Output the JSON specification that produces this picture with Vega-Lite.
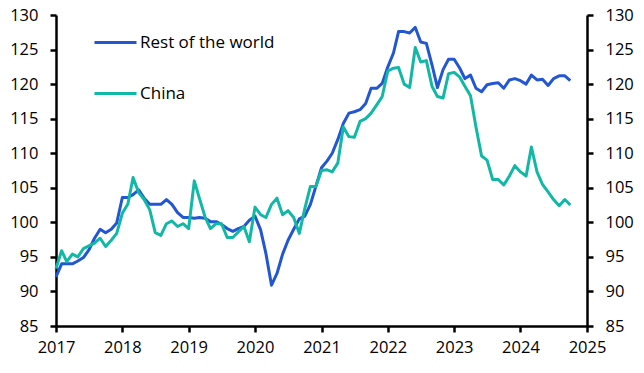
{
  "$schema": "https://vega.github.io/schema/vega-lite/v6.json",
  "autosize": "none",
  "width": 531,
  "height": 311,
  "padding": {"left": 56, "top": 15, "right": 57, "bottom": 47},
  "background": "white",
  "config": {
    "view": {"stroke": null},
    "font": "Open Sans",
    "axis": {
      "domainColor": "black", "domainWidth": 2.5,
      "tickColor": "black", "tickWidth": 2.5, "tickSize": 6,
      "labelColor": "black", "labelFontSize": 16.5, "labelFont": "Open Sans",
      "grid": false, "title": null
    }
  },
  "data": {"values": [
    {"date":"2017-01-01","Rest of the world":92.1,"China":93.3},
    {"date":"2017-02-01","Rest of the world":94.0,"China":95.9},
    {"date":"2017-03-01","Rest of the world":94.0,"China":94.3},
    {"date":"2017-04-01","Rest of the world":94.0,"China":95.4},
    {"date":"2017-05-01","Rest of the world":94.4,"China":95.0},
    {"date":"2017-06-01","Rest of the world":94.9,"China":96.2},
    {"date":"2017-07-01","Rest of the world":96.0,"China":96.6},
    {"date":"2017-08-01","Rest of the world":97.7,"China":97.0},
    {"date":"2017-09-01","Rest of the world":99.0,"China":97.7},
    {"date":"2017-10-01","Rest of the world":98.5,"China":96.5},
    {"date":"2017-11-01","Rest of the world":99.0,"China":97.4},
    {"date":"2017-12-01","Rest of the world":99.9,"China":98.4},
    {"date":"2018-01-01","Rest of the world":103.6,"China":101.3},
    {"date":"2018-02-01","Rest of the world":103.6,"China":102.7},
    {"date":"2018-03-01","Rest of the world":104.0,"China":106.5},
    {"date":"2018-04-01","Rest of the world":104.7,"China":104.3},
    {"date":"2018-05-01","Rest of the world":103.5,"China":103.3},
    {"date":"2018-06-01","Rest of the world":102.6,"China":101.8},
    {"date":"2018-07-01","Rest of the world":102.6,"China":98.5},
    {"date":"2018-08-01","Rest of the world":102.6,"China":98.1},
    {"date":"2018-09-01","Rest of the world":103.3,"China":99.8},
    {"date":"2018-10-01","Rest of the world":102.6,"China":100.2},
    {"date":"2018-11-01","Rest of the world":101.4,"China":99.4},
    {"date":"2018-12-01","Rest of the world":100.7,"China":99.8},
    {"date":"2019-01-01","Rest of the world":100.7,"China":99.1},
    {"date":"2019-02-01","Rest of the world":100.6,"China":106.0},
    {"date":"2019-03-01","Rest of the world":100.7,"China":103.5},
    {"date":"2019-04-01","Rest of the world":100.6,"China":100.8},
    {"date":"2019-05-01","Rest of the world":100.1,"China":99.1},
    {"date":"2019-06-01","Rest of the world":100.1,"China":99.8},
    {"date":"2019-07-01","Rest of the world":99.7,"China":99.8},
    {"date":"2019-08-01","Rest of the world":99.1,"China":97.8},
    {"date":"2019-09-01","Rest of the world":98.7,"China":97.8},
    {"date":"2019-10-01","Rest of the world":99.1,"China":98.6},
    {"date":"2019-11-01","Rest of the world":99.4,"China":99.4},
    {"date":"2019-12-01","Rest of the world":100.3,"China":97.2},
    {"date":"2020-01-01","Rest of the world":100.9,"China":102.2},
    {"date":"2020-02-01","Rest of the world":98.9,"China":101.1},
    {"date":"2020-03-01","Rest of the world":95.5,"China":100.7},
    {"date":"2020-04-01","Rest of the world":90.9,"China":102.6},
    {"date":"2020-05-01","Rest of the world":92.6,"China":103.5},
    {"date":"2020-06-01","Rest of the world":95.4,"China":101.1},
    {"date":"2020-07-01","Rest of the world":97.4,"China":101.7},
    {"date":"2020-08-01","Rest of the world":99.0,"China":100.7},
    {"date":"2020-09-01","Rest of the world":100.5,"China":98.4},
    {"date":"2020-10-01","Rest of the world":100.9,"China":102.0},
    {"date":"2020-11-01","Rest of the world":102.6,"China":105.2},
    {"date":"2020-12-01","Rest of the world":105.2,"China":105.2},
    {"date":"2021-01-01","Rest of the world":107.9,"China":107.5},
    {"date":"2021-02-01","Rest of the world":108.9,"China":107.6},
    {"date":"2021-03-01","Rest of the world":110.0,"China":107.3},
    {"date":"2021-04-01","Rest of the world":112.0,"China":108.6},
    {"date":"2021-05-01","Rest of the world":114.3,"China":113.8},
    {"date":"2021-06-01","Rest of the world":115.8,"China":112.4},
    {"date":"2021-07-01","Rest of the world":116.0,"China":112.3},
    {"date":"2021-08-01","Rest of the world":116.3,"China":114.6},
    {"date":"2021-09-01","Rest of the world":117.2,"China":115.0},
    {"date":"2021-10-01","Rest of the world":119.4,"China":115.8},
    {"date":"2021-11-01","Rest of the world":119.4,"China":117.0},
    {"date":"2021-12-01","Rest of the world":120.1,"China":118.2},
    {"date":"2022-01-01","Rest of the world":122.5,"China":121.9},
    {"date":"2022-02-01","Rest of the world":124.5,"China":122.3},
    {"date":"2022-03-01","Rest of the world":127.6,"China":122.4},
    {"date":"2022-04-01","Rest of the world":127.6,"China":120.0},
    {"date":"2022-05-01","Rest of the world":127.4,"China":119.5},
    {"date":"2022-06-01","Rest of the world":128.2,"China":125.3},
    {"date":"2022-07-01","Rest of the world":126.1,"China":123.2},
    {"date":"2022-08-01","Rest of the world":125.9,"China":123.4},
    {"date":"2022-09-01","Rest of the world":122.8,"China":119.7},
    {"date":"2022-10-01","Rest of the world":119.5,"China":118.2},
    {"date":"2022-11-01","Rest of the world":122.1,"China":118.0},
    {"date":"2022-12-01","Rest of the world":123.6,"China":121.5},
    {"date":"2023-01-01","Rest of the world":123.6,"China":121.7},
    {"date":"2023-02-01","Rest of the world":122.3,"China":121.0},
    {"date":"2023-03-01","Rest of the world":120.8,"China":119.7},
    {"date":"2023-04-01","Rest of the world":121.3,"China":118.3},
    {"date":"2023-05-01","Rest of the world":119.4,"China":113.8},
    {"date":"2023-06-01","Rest of the world":118.9,"China":109.6},
    {"date":"2023-07-01","Rest of the world":119.9,"China":109.0},
    {"date":"2023-08-01","Rest of the world":120.1,"China":106.2},
    {"date":"2023-09-01","Rest of the world":120.2,"China":106.2},
    {"date":"2023-10-01","Rest of the world":119.4,"China":105.4},
    {"date":"2023-11-01","Rest of the world":120.6,"China":106.7},
    {"date":"2023-12-01","Rest of the world":120.8,"China":108.2},
    {"date":"2024-01-01","Rest of the world":120.5,"China":107.3},
    {"date":"2024-02-01","Rest of the world":120.0,"China":106.7},
    {"date":"2024-03-01","Rest of the world":121.3,"China":110.9},
    {"date":"2024-04-01","Rest of the world":120.6,"China":107.3},
    {"date":"2024-05-01","Rest of the world":120.7,"China":105.5},
    {"date":"2024-06-01","Rest of the world":119.8,"China":104.4},
    {"date":"2024-07-01","Rest of the world":120.8,"China":103.3},
    {"date":"2024-08-01","Rest of the world":121.2,"China":102.4},
    {"date":"2024-09-01","Rest of the world":121.2,"China":103.3},
    {"date":"2024-10-01","Rest of the world":120.5,"China":102.5}
  ]},
  "transform": [{"fold": ["Rest of the world", "China"], "as": ["series", "value"]}],
  "layer": [
    {
      "mark": {"type": "line", "strokeWidth": 3, "strokeJoin": "round"},
      "encoding": {
        "x": {"field": "date", "type": "temporal",
              "scale": {"type": "utc", "domain": ["2017-01-01", "2025-01-01"], "nice": false},
              "axis": {"format": "%Y", "tickCount": {"interval": "year", "step": 1}, "labelPadding": 7, "labelFlush": false, "labelOverlap": false}},
        "y": {"field": "value", "type": "quantitative",
              "scale": {"domain": [85, 130], "nice": false, "zero": false},
              "axis": {"orient": "left", "values": [85,90,95,100,105,110,115,120,125,130], "labelPadding": 12}},
        "color": {"field": "series", "type": "nominal",
                  "scale": {"domain": ["Rest of the world", "China"], "range": ["#2256d2", "#12b8a6"]},
                  "legend": {"title": null, "orient": "none", "legendX": 37, "legendY": 5,
                             "symbolType": "stroke", "symbolSize": 1764, "symbolStrokeWidth": 3,
                             "labelFontSize": 17, "labelFont": "Open Sans", "labelColor": "black",
                             "labelOffset": 2, "rowPadding": 20, "padding": 0, "direction": "vertical"}}
      }
    },
    {
      "mark": {"type": "line", "opacity": 0},
      "encoding": {
        "x": {"field": "date", "type": "temporal"},
        "y": {"field": "value", "type": "quantitative",
              "axis": {"orient": "right", "values": [85,90,95,100,105,110,115,120,125,130], "labelPadding": 12}},
        "detail": {"field": "series"}
      }
    }
  ],
  "resolve": {"axis": {"y": "independent"}}
}
